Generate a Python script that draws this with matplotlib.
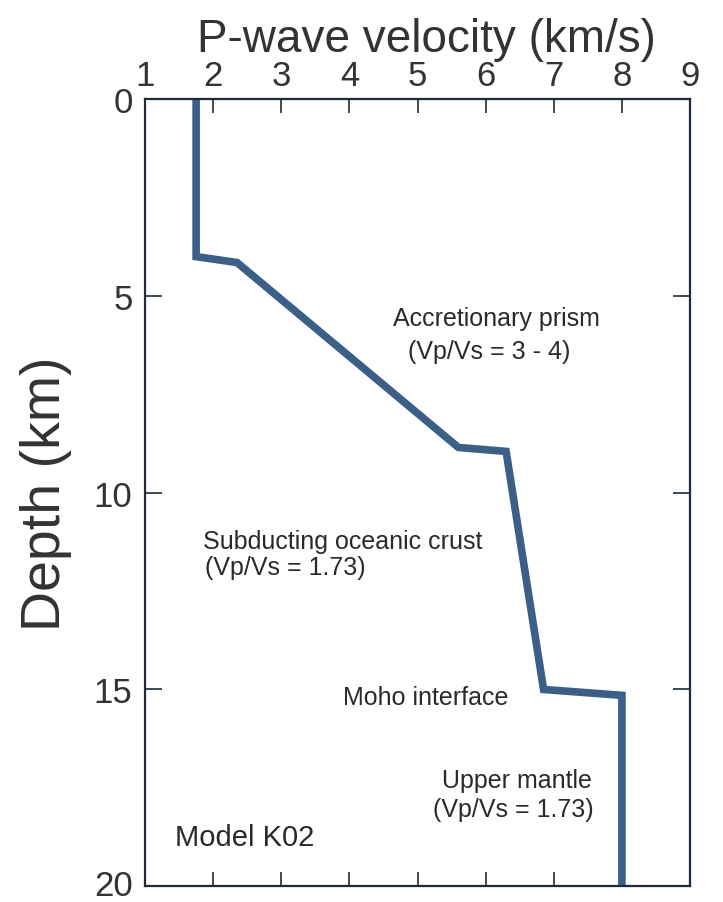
import matplotlib.pyplot as plt
import matplotlib.transforms as mtransforms
import numpy as np

plt.rcParams['font.family'] = ['Liberation Sans', 'DejaVu Sans']

# velocity model K02
vp = [1.75, 1.75, 2.35, 5.6, 6.3, 6.85, 8.0, 8.0]
depth = [0.0, 4.0, 4.15, 8.85, 8.95, 15.0, 15.15, 20.0]

xticks = [1, 2, 3, 4, 5, 6, 7, 8, 9]
yticks = [0, 5, 10, 15, 20]

fig = plt.figure(figsize=(7.23, 9.03), dpi=100)
ax = fig.add_axes([0.2006, 0.0175, 0.7538, 0.8715])

ax.plot(vp, depth, color='#3c5f88', lw=5.5, solid_joinstyle='miter')

ax.set_xlim(1, 9)
ax.set_ylim(20, 0)
ax.set_xticks(xticks)
ax.set_yticks(yticks)
ax.xaxis.tick_top()
ax.xaxis.set_label_position('top')
ax.tick_params(axis='x', direction='in', length=10, width=1.2, top=True, bottom=True,
               labeltop=True, labelbottom=False, labelsize=25, pad=5, colors='#1d2b3a',
               labelcolor='#333333')
ax.tick_params(axis='y', direction='in', length=12, width=1.2, left=True, right=True,
               labelsize=25, pad=9, colors='#1d2b3a', labelcolor='#333333')
for s in ax.spines.values():
    s.set_color('#1d2b3a')
    s.set_linewidth(1.6)

# nudge the bottom "20" up a little so it stays inside the figure
lbl = ax.yaxis.get_major_ticks()[-1].label1
lbl.set_transform(lbl.get_transform() + mtransforms.ScaledTranslation(0, 3/72, fig.dpi_scale_trans))

ax.set_xlabel('P-wave velocity (km/s)', fontsize=33, color='#333333', labelpad=6)
ax.xaxis.label.set_x(0.517)
ax.set_ylabel('Depth (km)', fontsize=40, color='#333333', labelpad=16)

tc = '#2a2a2a'
fs = 18
ax.text(4.64, 5.55, 'Accretionary prism', fontsize=fs, color=tc, ha='left', va='center')
ax.text(4.86, 6.4, '(Vp/Vs = 3 - 4)', fontsize=fs, color=tc, ha='left', va='center')
ax.text(1.85, 11.22, 'Subducting oceanic crust', fontsize=fs, color=tc, ha='left', va='center')
ax.text(1.88, 11.9, '(Vp/Vs = 1.73)', fontsize=fs, color=tc, ha='left', va='center')
ax.text(3.91, 15.2, 'Moho interface', fontsize=fs, color=tc, ha='left', va='center')
ax.text(5.36, 17.3, 'Upper mantle', fontsize=fs, color=tc, ha='left', va='center')
ax.text(5.23, 18.05, '(Vp/Vs = 1.73)', fontsize=fs, color=tc, ha='left', va='center')
ax.text(1.44, 18.75, 'Model K02', fontsize=21, color=tc, ha='left', va='center')

fig.savefig('out.png', dpi=100)
